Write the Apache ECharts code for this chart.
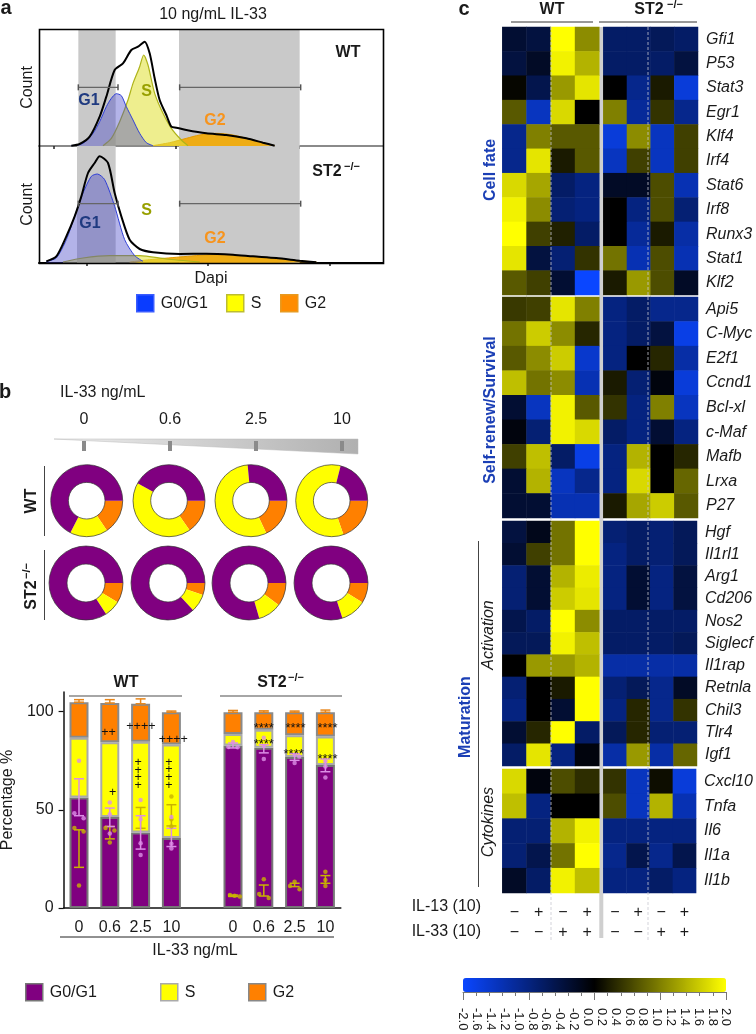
<!DOCTYPE html>
<html><head><meta charset="utf-8">
<style>html,body{margin:0;padding:0;background:#fff}#c{width:756px;height:1034px}</style>
<script src="https://cdn.jsdelivr.net/npm/echarts@6/dist/echarts.min.js"></script>
</head><body><div id="c"></div>
<script>
const FONT = '"Liberation Sans", Arial, sans-serif';

// ---------- Panel a: Dapi histograms (Dapi channel / count readings)
const wtTotal = [[215,1],[240,6],[270,28],[300,88],[320,148],[345,228],[370,248],[395,288],[415,298],[435,313],[450,278],[465,203],[480,138],[500,93],[515,58],[530,55],[560,48],[620,38],[680,33],[740,23],[790,10],[825,1]];
const wtG1 = [[215,1],[250,8],[280,38],[300,73],[320,118],[335,143],[350,157],[365,151],[380,118],[400,78],[420,38],[440,10],[460,1]];
const wtS = [[310,1],[335,23],[360,73],[385,138],[400,188],[420,238],[432,273],[445,243],[465,158],[490,98],[515,53],[545,18],[565,1]];
const wtG2 = [[460,1],[510,10],[560,23],[600,33],[650,38],[700,33],[760,18],[825,1]];
const koTotal = [[140,5],[170,20],[200,80],[225,140],[245,200],[265,270],[285,300],[300,320],[325,300],[345,210],[365,140],[390,70],[420,42],[460,32],[540,27],[620,28],[700,25],[760,20],[830,15],[900,7],[950,2]];
const koG1 = [[140,5],[170,15],[200,70],[225,140],[250,210],[275,260],[293,267],[315,250],[345,170],[375,70],[405,22],[430,5]];
const koS = [[190,3],[250,15],[330,22],[420,22],[500,12],[600,3]];
const koG2 = [[390,3],[450,10],[540,18],[640,25],[740,20],[830,12],[950,3]];
const wtBands = [[236,348],[538,900]];
const koBands = [[232,348],[538,900]];
const wtGates = [[236,176],[355,176],['-','-'],[540,176],[903,176]];
const koGates = [[236,178],[355,178],['-','-'],[540,178],[903,178]];
const wtTicks = [162,528,898];
const koTicks = [260,625,990];

// ---------- Panel b: donuts, share of cell-cycle phase [G2, S, G0/G1]
const doseLabels = ['0','0.6','2.5','10'];
const wtDonuts = [[15.5,17,67.5],[15.3,42.8,41.9],[18,55.5,26.5],[19.7,59.3,21]];
const koDonuts = [[8.7,7.2,84.1],[5.3,7.8,86.9],[10.2,10.3,79.5],[8.8,11.2,80]];

// ---------- Panel b: stacked bars
const barCategories = ['0','0.6','2.5','10','','0','0.6','2.5','10'];
const barG1 = [56.3,46.3,38.4,35.7,null,82.7,81.6,76.9,72.8];
const barS  = [30.4,38.1,46.3,47.6,null,5.9,9.2,11.1,14.6];
const barG2 = [18.1,20,19.3,16.4,null,11.1,8.9,11.7,12.3];
const barSlots = [0,1,2,3,5,6,7,8];
const g1ErrLow  = [47,41.5,30,31.3,81.5,79,75.2,69.4];
const g1ErrHigh = [65.8,50.9,47,40.6,84,83.2,78.6,75.9];
const sErrLow   = [20.7,35.2,40.6,41.8,5.9,6.1,10.9,12.6];
const sErrHigh  = [39.8,41.5,51.2,52.6,6.6,11.7,12.6,16.5];
const g2ErrLow  = [104.8,104.4,104,99.7,99.7,99.7,99.7,99.7];
const g2ErrHigh = [106.1,106.1,106.5,100.3,100.6,100.4,100.3,100.8];
const g1Dots = [[0,75],[-0.15,48.3],[0.15,45.7],[1,53.7],[1,47.8],[1,38],[2,55],[2,45.2],[2,33],[2,27],[3,46.3],[3,32.7],[3,30.3],[5,84.5],[4.85,82],[5.15,81.8],[6,86.7],[6,82.5],[6,75.9],[7,78],[7.15,77.2],[7,73.8],[8,74.7],[8,72],[8,66.5]];
const sDots = [[-0.15,40.8],[0.15,39],[0,11.4],[0.86,40.7],[1.15,39.5],[1,33.3],[3,56.8],[3,45.2],[3,41.5],[4.9,6.6],[5.05,6.3],[5.22,5.8],[5.85,7.1],[6,14.6],[6.16,5.1],[6.85,11.2],[7,13.4],[7.16,9.5],[8,18.4],[8,14.3],[8,11.2]];
const plusMarks = [[0.96,89.1,'++'],[1.09,58.8,'+'],[2.01,92.3,'++++'],[1.92,74.1,'+'],[1.92,70.2,'+'],[1.92,66.3,'+'],[1.92,62.4,'+'],[3.06,86,'++++'],[2.92,74.3,'+'],[2.92,70.3,'+'],[2.92,66.6,'+'],[2.92,62.4,'+']];
const starMarks = [[6,92.7],[6,84.5],[7.03,92.7],[6.97,79.4],[8.07,92.7],[8.07,76.9]];

// ---------- Panel c: heatmap
const columnLabels = ['\u2212\n\u2212','+\n\u2212','\u2212\n+','+\n+'];
const cellFateGenes = ['Gfi1','P53','Stat3','Egr1','Klf4','Irf4','Stat6','Irf8','Runx3','Stat1','Klf2'];
const cellFate = [
[-0.4,-0.5,2,1.1,-0.8,-0.8,-0.7,-0.8],
[-0.5,-0.3,1.9,1.4,-0.8,-0.8,-0.8,-0.5],
[0.05,-0.6,1.2,1.8,0,-1.1,0.2,-1.7],
[0.7,-1.5,1.7,0,1,-1.2,0.4,-1.1],
[-1.1,1,0.7,0.7,-1.7,1.1,-1.5,0.5],
[-1.1,1.8,0.2,0.7,-1.5,0.5,-1.5,0.5],
[1.7,1.3,-0.8,-1,-0.3,-0.3,0.6,-1.4],
[1.9,1.1,-0.9,-1,0,-1,0.6,-0.9],
[2,0.5,0.25,-0.8,0,-1.2,0.2,-1.3],
[1.8,-0.5,-0.9,0.4,0.9,-1.4,0.6,-1.4],
[0.7,0.5,-0.4,-2,0.2,1.2,0.6,-0.3]];
const survivalGenes = ['Api5','C-Myc','E2f1','Ccnd1','Bcl-xl','c-Maf','Mafb','Lrxa','P27'];
const survival = [
[0.45,0.5,1.8,1,-1,-0.8,-1.1,-1.1],
[0.9,1.6,1.1,0.3,-1,-0.8,-0.5,-1.8],
[0.7,1.1,1.6,-1.6,-1,0,0.3,-1.3],
[1.5,0.9,1.1,-1.4,0.2,-0.9,-0.1,-1.7],
[-0.4,-1.5,1.9,0.7,0.4,-1,1,-1.5],
[-0.1,-0.9,1.9,1.7,-0.8,-1,-0.4,-1],
[0.5,1.5,-0.8,-1.8,-1,1.4,0,0.3],
[-0.4,1.4,-1.5,-1.1,-1,1.7,0,0.8],
[-0.4,-0.4,-1.4,-1.4,0.2,1.3,1.6,0.7]];
const activationGenes = ['Hgf','Il1rl1','Arg1','Cd206','Nos2','Siglecf','Il1rap','Retnla','Chil3','Tlr4','Igf1'];
const activation = [
[-0.5,-0.2,0.9,2,-0.9,-0.8,-0.9,-0.7],
[-0.4,0.5,0.9,2,-1,-0.8,-0.9,-0.7],
[-0.9,-0.4,1.4,1.85,-1,-0.4,-1,-0.5],
[-0.9,-0.4,1.6,1.8,-1,-0.4,-1,-0.5],
[-0.6,-0.8,2,1.1,-0.8,-0.8,-0.8,-0.8],
[-0.7,-0.7,1.9,1.5,-0.8,-0.8,-0.8,-0.7],
[0,1.2,1.2,1.4,-1.3,-1.3,-1.3,-1.3],
[-0.9,0,0.2,2,-0.9,-0.7,-1.1,-0.3],
[-1,0,-0.4,2,-1,0.3,-1.1,0.4],
[-0.4,0.3,2,-0.8,-0.7,0.3,-0.9,-0.9],
[-0.8,1.8,-1,-0.1,-1.3,1.2,-1.3,0.8]];
const cytokineGenes = ['Cxcl10','Tnfa','Il6','Il1a','Il1b'];
const cytokines = [
[1.7,-0.1,0.6,0.35,0.4,-1.5,0.1,-1.7],
[1.5,-1,0,0,0.6,-1.5,1.4,-1.4],
[-0.9,-0.9,1.4,1.9,-1,-1,-1,-1],
[-0.9,-0.6,0.9,2,-1.1,-0.6,-1.1,-0.6],
[-0.3,-0.8,1.9,1.5,-1,-1,-0.8,-1]];
const scaleLabels = ['-2.0','-1.6','-1.4','-1.2','-1.0','-0.8','-0.6','-0.4','-0.2','0.0','0.2','0.4','0.6','0.8','1.0','1.2','1.4','1.6','1.8','2.0'];

const C = {purple:'#800080', yellow:'#ffff00', orange:'#ff8000', pink:'#dc8fe6', gold:'#c9b400', band:'#c9c9c9', text:'#1a1a1a', blue:'#1b3fb5'};

const grids=[], xAxes=[], yAxes=[], series=[], graphics=[], legends=[];
function txt(s,x,y,o={}){graphics.push({type:'text',x,y,rotation:o.rot||0,z:50,silent:true,style:{text:s,fill:o.color||C.text,font:`${o.style||'normal'} ${o.weight||'normal'} ${o.size||16}px ${FONT}`,textAlign:o.align||'center',textVerticalAlign:'middle'}});}
function hline(x1,x2,y,color,w){graphics.push({type:'line',z:40,silent:true,shape:{x1,y1:y,x2,y2:y},style:{stroke:color||'#444',lineWidth:w||1}});}
function vline(x,y1,y2,color,w,dash){graphics.push({type:'line',z:60,silent:true,shape:{x1:x,y1,x2:x,y2},style:{stroke:color||'#444',lineWidth:w||1,lineDash:dash||null}});}
const R90=Math.PI/2;
function addAxes(x,y){const xi=xAxes.length,yi=yAxes.length;xAxes.push(x);yAxes.push(y);return [xi,yi];}

// ---- panel a
function histPanel(top,h,bottomAxis,total,g1,s,g2,bands,gates,ticks,names){
  const gi=grids.length;
  grids.push({left:39,width:344,top,height:h});
  const [xi,yi]=addAxes({gridIndex:gi,type:'value',min:118,max:1150,position:'bottom',
    name:bottomAxis?'Dapi':'',nameLocation:'middle',nameGap:8,nameTextStyle:{fontFamily:FONT,fontSize:16,color:C.text},
    axisLine:{show:true,lineStyle:{color:bottomAxis?'#000':'#8a8a8a',width:2}},
    axisTick:{show:true,customValues:ticks,length:3,inside:false,lineStyle:{color:'#222',width:1.5}},
    axisLabel:{show:false},splitLine:{show:false}},
   {gridIndex:gi,type:'value',min:0,max:h*3,position:'left',name:'Count',nameLocation:'middle',nameGap:3,nameRotate:90,
    nameTextStyle:{fontFamily:FONT,fontSize:16,color:C.text},axisLine:{show:false},axisTick:{show:false},axisLabel:{show:false},splitLine:{show:false}});
  const base={type:'line',xAxisIndex:xi,yAxisIndex:yi,showSymbol:false,symbol:'none',silent:true,smooth:0.25,animation:false};
  series.push({...base,name:'bands'+gi,data:[],z:1,markArea:{silent:true,z:1,itemStyle:{color:C.band},data:bands.map(b=>[{xAxis:b[0]},{xAxis:b[1]}])}});
  series.push({...base,name:names[2],data:g2,z:3,lineStyle:{color:'#e39a00',width:1},areaStyle:{color:'#f2a900',opacity:0.9}});
  series.push({...base,name:names[1],data:s,z:4,lineStyle:{color:'#aeb31a',width:1.2},areaStyle:{color:'#e2e23c',opacity:0.58}});
  series.push({...base,name:names[0],data:g1,z:5,lineStyle:{color:'#2f3fd6',width:1},areaStyle:{color:'#4b4bc8',opacity:0.42}});
  series.push({...base,name:'total'+gi,data:total,z:7,lineStyle:{color:'#000',width:2}});
  series.push({...base,name:'gates'+gi,data:gates,smooth:false,z:8,showSymbol:true,symbol:'rect',symbolSize:[1.5,6],connectNulls:false,itemStyle:{color:'#555'},lineStyle:{color:'#666',width:1.3}});
}
histPanel(29,117,false,wtTotal,wtG1,wtS,wtG2,wtBands,wtGates,wtTicks,['a G0/G1','a S','a G2']);
histPanel(146,117,true,koTotal,koG1,koS,koG2,koBands,koGates,koTicks,['a2 G0/G1','a2 S','a2 G2']);
graphics.push({type:'rect',z:45,silent:true,shape:{x:39.5,y:29.5,width:344,height:234},style:{fill:'none',stroke:'#000',lineWidth:1.6}});

// legends: one per entry so they sit where the reference has them
function lg(name,color,border,left,top){
  legends.push({left,top,itemWidth:17,itemHeight:17,orient:'horizontal',selectedMode:false,padding:0,itemGap:0,
   formatter:n=>n.replace(/^a2? /,''),textStyle:{fontFamily:FONT,fontSize:16,color:C.text,padding:[0,0,0,2]},
   data:[{name,icon:'rect',itemStyle:{color,borderColor:border,borderWidth:1.5,opacity:1}}]});
}
lg('a G0/G1','#0a3cff','#3a5cff',136,294);
lg('a S','#ffff00','#bdbd30',226,294);
lg('a G2','#ff8c00','#e89a20',280,294);

// ---- panel b wedge + dose axis
graphics.push({type:'polygon',z:0,silent:true,shape:{points:[[54,439],[358,439],[358,454]]},style:{stroke:'#bbb',lineWidth:0.5,fill:{type:'linear',x:0,y:0,x2:1,y2:0,colorStops:[{offset:0,color:'#eeeeee'},{offset:1,color:'#b0b0b0'}]}}});
{const gi=grids.length;
 grids.push({left:41,width:344,top:441,height:10});
 const [xi,yi]=addAxes({gridIndex:gi,type:'category',data:doseLabels,position:'top',axisLine:{show:false},axisTick:{show:true,alignWithLabel:true,length:10,lineStyle:{color:'#8a8a8a',width:4}},axisLabel:{fontFamily:FONT,fontSize:16,color:C.text,margin:13},splitLine:{show:false}},
  {gridIndex:gi,type:'value',show:false,min:0,max:1});
 series.push({type:'bar',xAxisIndex:xi,yAxisIndex:yi,data:[],silent:true,name:'doseAxis'});
}
const pieXWt=[86.7,169,251,331.7], pieXKo=[86,168,249,331];
function donut(vals,x,y,ri,ro){
  series.push({type:'pie',silent:true,animation:false,center:[x,y],radius:[ri,ro],startAngle:0,clockwise:true,label:{show:false},labelLine:{show:false},
    data:[{value:vals[0],itemStyle:{color:C.orange}},{value:vals[1],itemStyle:{color:C.yellow}},{value:vals[2],itemStyle:{color:C.purple}}],z:3});
  series.push({type:'pie',silent:true,animation:false,center:[x,y],radius:[ri,ro],startAngle:0,label:{show:false},labelLine:{show:false},
    data:[{value:1,itemStyle:{color:'rgba(0,0,0,0)',borderColor:'#333',borderWidth:0.7}}],z:4});
}
wtDonuts.forEach((v,i)=>donut(v,pieXWt[i],500.7,18.3,36));
koDonuts.forEach((v,i)=>donut(v,pieXKo[i],583,19,37));
txt('IL-33 ng/mL',60,393,{align:'left'});
txt('WT',32,501,{weight:'bold',rot:R90});
vline(44.5,466,536,'#444',1);
txt('ST2',32,595,{weight:'bold',rot:R90});
txt('\u2212/\u2212',27,571,{weight:'bold',size:11,rot:R90});
vline(44.5,550,620,'#444',1);

// ---- panel b stacked bars
{const gi=grids.length;
 grids.push({left:63.6,width:277.2,top:692,height:216});
 const [xb,yi]=addAxes({gridIndex:gi,type:'category',data:barCategories,position:'bottom',axisLine:{onZero:false,lineStyle:{color:'#111',width:1.5}},axisTick:{alignWithLabel:true,length:5,lineStyle:{color:'#111',width:1.2}},axisLabel:{fontFamily:FONT,fontSize:16,color:C.text,margin:12,interval:0},splitLine:{show:false}},
  {gridIndex:gi,type:'value',min:0,max:110,interval:50,position:'left',axisLine:{show:true,onZero:false,lineStyle:{color:'#111',width:1.5}},axisTick:{show:true,length:5,lineStyle:{color:'#111',width:1.2}},axisLabel:{fontFamily:FONT,fontSize:16,color:C.text,margin:10,showMaxLabel:false},splitLine:{show:false}});
 // hidden numeric x axis sharing the same band layout, for dots and error bars
 const xi=xAxes.length;
 xAxes.push({gridIndex:gi,type:'value',min:-0.5,max:8.5,show:false});
 const bar=(name,data,color,border)=>series.push({type:'bar',name,stack:'b',xAxisIndex:xb,yAxisIndex:yi,data,barWidth:19,silent:true,animation:false,z:2,itemStyle:{color,borderColor:border,borderWidth:2}});
 bar('G0/G1',barG1,C.purple,'#777');
 bar('S',barS,C.yellow,'#aaa');
 bar('G2',barG2,C.orange,'#8a8a8a');
 const err=(lo,hi,color,name)=>series.push({type:'custom',name,xAxisIndex:xi,yAxisIndex:yi,silent:true,animation:false,z:5,
   data:barSlots.map((s,i)=>[s,lo[i],hi[i]]),
   renderItem:(p,api)=>{const a=api.coord([api.value(0),api.value(1)]),b=api.coord([api.value(0),api.value(2)]),w=5;
     const st={stroke:color,lineWidth:1.5,fill:'none'};
     return {type:'group',children:[
       {type:'line',shape:{x1:a[0],y1:a[1],x2:b[0],y2:b[1]},style:st},
       {type:'line',shape:{x1:a[0]-w,y1:a[1],x2:a[0]+w,y2:a[1]},style:st},
       {type:'line',shape:{x1:b[0]-w,y1:b[1],x2:b[0]+w,y2:b[1]},style:st}]};}});
 err(g2ErrLow,g2ErrHigh,'#e8861a','g2err');
 err(sErrLow,sErrHigh,C.gold,'serr');
 err(g1ErrLow,g1ErrHigh,C.pink,'g1err');
 series.push({type:'scatter',name:'sDots',xAxisIndex:xi,yAxisIndex:yi,data:sDots,symbolSize:4.5,silent:true,animation:false,z:6,itemStyle:{color:C.gold}});
 series.push({type:'scatter',name:'g1Dots',xAxisIndex:xi,yAxisIndex:yi,data:g1Dots,symbolSize:4.5,silent:true,animation:false,z:6,itemStyle:{color:C.pink}});
 series.push({type:'custom',name:'plus',xAxisIndex:xi,yAxisIndex:yi,data:plusMarks,silent:true,animation:false,z:7,encode:{x:0,y:1},
   renderItem:(p,api)=>{const c=api.coord([api.value(0),api.value(1)]);return {type:'text',x:c[0],y:c[1],style:{text:plusMarks[p.dataIndex][2],fill:'#111',font:`12.5px ${FONT}`,textAlign:'center',textVerticalAlign:'middle'}};}});
 series.push({type:'custom',name:'stars',xAxisIndex:xi,yAxisIndex:yi,data:starMarks,silent:true,animation:false,z:7,encode:{x:0,y:1},
   renderItem:(p,api)=>{const c=api.coord([api.value(0),api.value(1)]);return {type:'text',x:c[0],y:c[1]+2,style:{text:'****',fill:'#111',font:`13px ${FONT}`,textAlign:'center',textVerticalAlign:'middle'}};}});
}
txt('Percentage %',8,800,{rot:R90});
txt('WT',126,683,{weight:'bold'});
txt('ST2',272,683,{weight:'bold'});
txt('\u2212/\u2212',296,678,{weight:'bold',size:11});
hline(69,182,696,'#888',1.5);
hline(220,342,696,'#888',1.5);
hline(60,334,937,'#222',1);
txt('IL-33 ng/mL',195,951);
lg('G0/G1',C.purple,'#777',25,983);
lg('S',C.yellow,'#aaa',160,983);
lg('G2',C.orange,'#888',248,983);

// ---- panel c
const blocks=[
 {genes:cellFateGenes,rows:cellFate,top:27,bottom:295},
 {genes:survivalGenes,rows:survival,top:297,bottom:518},
 {genes:activationGenes,rows:activation,top:521,bottom:766},
 {genes:cytokineGenes,rows:cytokines,top:769,bottom:893}];
const heatSeries=[];
blocks.forEach((b,bi)=>{
  [[502.3,97,0],[603.3,94.7,4]].forEach(([left,width,off])=>{
    const gi=grids.length;
    grids.push({left,width,top:b.top,height:b.bottom-b.top});
    const [xi,yi]=addAxes({gridIndex:gi,type:'category',data:columnLabels,position:'bottom',axisLine:{show:false},axisTick:{show:false},splitLine:{show:false},
      axisLabel:{show:bi===3,interval:0,fontFamily:FONT,fontSize:16,color:C.text,lineHeight:20,margin:10}},
     {gridIndex:gi,type:'category',data:b.genes,inverse:true,position:'right',axisLine:{show:false},axisTick:{show:false},splitLine:{show:false},
      axisLabel:{show:off===4,interval:0,fontFamily:FONT,fontSize:16,fontStyle:'italic',color:C.text,margin:8}});
    const data=[];
    b.rows.forEach((r,ri)=>{for(let c=0;c<4;c++)data.push([c,ri,r[c+off]]);});
    heatSeries.push(series.length);
    series.push({type:'heatmap',name:'heat'+gi,xAxisIndex:xi,yAxisIndex:yi,data,silent:true,animation:false,z:2,itemStyle:{borderWidth:0}});
  });
});
graphics.push({type:'rect',z:0,silent:true,shape:{x:599.3,y:27,width:4,height:911},style:{fill:'#cfcfcf'}});
vline(551,27,940,'#c8c8d0',0.8,[3,2]);
vline(648,27,940,'#c8c8d0',0.8,[3,2]);
txt('c',464,9,{weight:'bold',size:20});
txt('WT',552,10,{weight:'bold'});
txt('ST2',649,10,{weight:'bold'});
txt('\u2212/\u2212',675,5,{weight:'bold',size:11});
hline(511,593,22,'#333',1);
hline(599,697,22,'#333',1);
txt('Cell fate',491,170,{weight:'bold',color:C.blue,rot:R90});
txt('Self-renew/Survival',491,410,{weight:'bold',color:C.blue,rot:R90});
txt('Maturation',466,717,{weight:'bold',color:C.blue,rot:R90});
txt('Activation',489,635,{style:'italic',rot:R90});
txt('Cytokines',489,822,{style:'italic',rot:R90});
vline(478.5,541,887,'#444',1);
txt('IL-13 (10)',481,907,{align:'right'});
txt('IL-33 (10)',481,932,{align:'right'});

// colour scale axes
{const gi=grids.length;
 grids.push({left:463,width:263,top:978,height:14});
 xAxes.push({gridIndex:gi,type:'value',min:-2,max:2,interval:1,position:'bottom',axisLine:{show:true,lineStyle:{color:'#777',width:1}},axisTick:{show:true,length:8,lineStyle:{color:'#777',width:1}},minorTick:{show:true,splitNumber:5,length:4,lineStyle:{color:'#777',width:1}},axisLabel:{show:false},splitLine:{show:false}});
 xAxes.push({gridIndex:gi,type:'category',data:scaleLabels,boundaryGap:false,position:'bottom',axisLine:{show:false},axisTick:{show:false},axisLabel:{interval:0,rotate:-90,margin:16,fontFamily:FONT,fontSize:13,color:C.text,showMinLabel:true,showMaxLabel:true,hideOverlap:false},splitLine:{show:false}});
 yAxes.push({gridIndex:gi,type:'value',min:0,max:1,show:false});
}

// panel letters & titles
txt('a',6,8,{weight:'bold',size:20});
txt('b',5,392,{weight:'bold',size:20});
txt('10 ng/mL IL-33',213,15);
txt('WT',348,53,{weight:'bold'});
txt('ST2',327,172,{weight:'bold'});
txt('\u2212/\u2212',352,167,{weight:'bold',size:11});
txt('G1',89,101,{weight:'bold',color:'#1f3a80'});
txt('S',146.7,92,{weight:'bold',color:'#98a000'});
txt('G2',215,121,{weight:'bold',color:'#f7941d'});
txt('G1',90,224,{weight:'bold',color:'#1f3a80'});
txt('S',146.7,211,{weight:'bold',color:'#98a000'});
txt('G2',215,239,{weight:'bold',color:'#f7941d'});

const chart=echarts.init(document.getElementById('c'),null,{renderer:'canvas'});
chart.setOption({animation:false,backgroundColor:'#fff',textStyle:{fontFamily:FONT},
  grid:grids,xAxis:xAxes,yAxis:yAxes,series,legend:legends,graphic:graphics,
  visualMap:{type:'continuous',min:-2,max:2,seriesIndex:heatSeries,orient:'horizontal',left:463,top:978,itemWidth:14,itemHeight:263,
    calculable:false,hoverLink:false,showLabel:false,text:null,padding:0,inRange:{color:['#0a46ff','#000000','#ffff00']}}
});
</script></body></html>
